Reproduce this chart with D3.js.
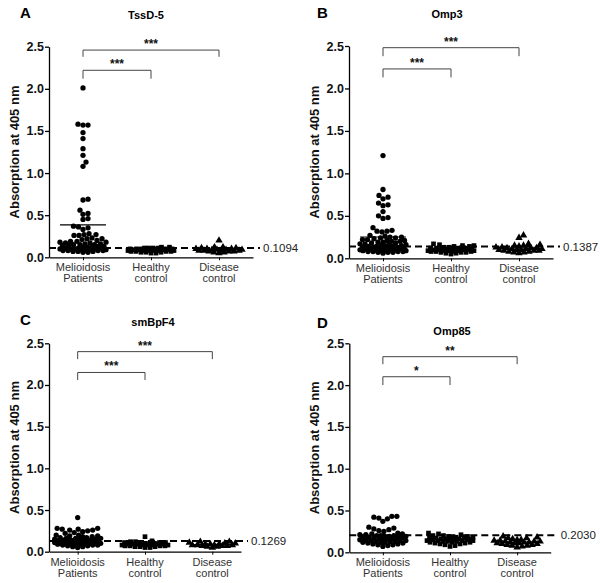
<!DOCTYPE html>
<html><head><meta charset="utf-8">
<script src="https://cdn.jsdelivr.net/npm/d3@7"></script>
<style>body{margin:0;background:#fff}svg{display:block}text{font-family:"Liberation Sans",Arial,sans-serif}</style>
</head><body><svg id="c" width="600" height="583"></svg>
<script>
const categories = ["Melioidosis|Patients", "Healthy|control", "Disease|control"];
const yTicks = [0, 0.5, 1.0, 1.5, 2.0, 2.5];
const panelLetters = ["A", "B", "C", "D"];
const panelTitles = ["TssD-5", "Omp3", "smBpF4", "Omp85"];
const cutoffs = [0.1094, 0.1387, 0.1269, 0.2030];
const cutoffLabels = ["0.1094", "0.1387", "0.1269", "0.2030"];
const sigLabels = [["***", "***"], ["***", "***"], ["***", "***"], ["**", "*"]];
// bracket levels [outer top, outer drop, inner top, inner drop] in data units
const bracketLevels = [[2.46, 2.38, 2.22, 2.12], [2.48, 2.38, 2.23, 2.13], [2.40, 2.31, 2.15, 2.06], [2.34, 2.25, 2.10, 2.00]];

const meliA = [2.01,1.58,1.57,1.57,1.48,1.41,1.29,1.21,1.13,1.08,0.69,0.68,0.56,0.52,0.51,0.46,0.45,0.37,0.36,0.35,0.33,0.28,0.27,0.27,0.26,0.26,0.23,0.22,0.22,0.21,0.20,0.19,0.19,0.18,0.18,0.17,0.17,0.16,0.16,0.15,0.15,0.15,0.14,0.14,0.13,0.13,0.12,0.12,0.12,0.11,0.11,0.11,0.10,0.10,0.10,0.10,0.09,0.09,0.09,0.09,0.08,0.08,0.08,0.08,0.07,0.07,0.07,0.06,0.06];
const healthyA = [0.12,0.12,0.11,0.11,0.11,0.11,0.10,0.10,0.10,0.10,0.10,0.10,0.09,0.09,0.09,0.09,0.09,0.09,0.09,0.08,0.08,0.08,0.08,0.08,0.08,0.07,0.07,0.07,0.07,0.06,0.06,0.06,0.05,0.05];
const diseaseA = [0.20,0.12,0.12,0.11,0.11,0.10,0.10,0.10,0.09,0.09,0.09,0.09,0.08,0.08,0.08,0.08,0.07,0.07,0.07,0.06,0.06,0.05];

const meliB = [1.21,0.81,0.74,0.72,0.70,0.65,0.63,0.62,0.55,0.50,0.48,0.47,0.36,0.33,0.32,0.32,0.31,0.27,0.26,0.25,0.25,0.24,0.24,0.23,0.22,0.22,0.21,0.21,0.20,0.20,0.19,0.19,0.18,0.18,0.17,0.17,0.16,0.16,0.15,0.15,0.15,0.14,0.14,0.14,0.13,0.13,0.13,0.12,0.12,0.12,0.12,0.11,0.11,0.11,0.10,0.10,0.10,0.10,0.09,0.09,0.09,0.09,0.08,0.08,0.08,0.08,0.07,0.07,0.07,0.06];
const healthyB = [0.17,0.16,0.15,0.15,0.14,0.14,0.13,0.13,0.12,0.12,0.12,0.12,0.11,0.11,0.11,0.11,0.11,0.10,0.10,0.10,0.10,0.10,0.09,0.09,0.09,0.09,0.09,0.08,0.08,0.08,0.08,0.07,0.07,0.07,0.06,0.06,0.05];
const diseaseB = [0.27,0.24,0.17,0.16,0.15,0.15,0.14,0.13,0.13,0.12,0.12,0.12,0.11,0.11,0.11,0.10,0.10,0.10,0.09,0.09,0.09,0.08,0.08,0.07,0.07,0.06];

const meliC = [0.41,0.28,0.28,0.27,0.27,0.26,0.26,0.25,0.24,0.23,0.22,0.20,0.20,0.19,0.19,0.18,0.18,0.17,0.17,0.16,0.16,0.16,0.15,0.15,0.15,0.14,0.14,0.14,0.14,0.13,0.13,0.13,0.13,0.12,0.12,0.12,0.12,0.11,0.11,0.11,0.11,0.10,0.10,0.10,0.10,0.09,0.09,0.09,0.08,0.08,0.08,0.07,0.07,0.06,0.06,0.05];
const healthyC = [0.18,0.13,0.12,0.12,0.11,0.11,0.11,0.10,0.10,0.10,0.10,0.09,0.09,0.09,0.09,0.09,0.08,0.08,0.08,0.08,0.08,0.07,0.07,0.07,0.07,0.06,0.06,0.06,0.05,0.05];
const diseaseC = [0.12,0.12,0.11,0.10,0.10,0.09,0.09,0.09,0.08,0.08,0.08,0.08,0.07,0.07,0.07,0.06,0.06,0.05];

const meliD = [0.43,0.43,0.42,0.41,0.40,0.37,0.30,0.29,0.28,0.27,0.26,0.25,0.23,0.22,0.22,0.21,0.21,0.20,0.20,0.20,0.19,0.19,0.19,0.18,0.18,0.18,0.17,0.17,0.17,0.16,0.16,0.16,0.15,0.15,0.15,0.14,0.14,0.14,0.13,0.13,0.13,0.12,0.12,0.12,0.11,0.11,0.10,0.10,0.09,0.09,0.08,0.07];
const healthyD = [0.23,0.22,0.21,0.20,0.20,0.19,0.19,0.18,0.18,0.18,0.17,0.17,0.17,0.16,0.16,0.16,0.16,0.15,0.15,0.15,0.15,0.14,0.14,0.14,0.14,0.13,0.13,0.13,0.12,0.12,0.12,0.11,0.11,0.10,0.10,0.09,0.08,0.07];
const diseaseD = [0.19,0.18,0.17,0.17,0.16,0.15,0.15,0.14,0.14,0.13,0.13,0.13,0.12,0.12,0.12,0.11,0.11,0.11,0.10,0.10,0.09,0.09,0.08,0.08,0.07,0.06];

const panelData = [[meliA, healthyA, diseaseA],[meliB, healthyB, diseaseB],[meliC, healthyC, diseaseC],[meliD, healthyD, diseaseD]];

const layouts = [
  {left:49, right:253, top:46.7, bottom:257.3, pad:0.5, letterX:20, letterY:18, titleX:146, titleY:19, ylabX:15},
  {left:349, right:553, top:46, bottom:258.3, pad:0.5, letterX:317, letterY:18, titleX:447, titleY:18, ylabX:315},
  {left:49, right:241, top:343.3, bottom:551.7, pad:0.426, letterX:20, letterY:325, titleX:153, titleY:326, ylabX:15},
  {left:349.3, right:550.7, top:343.3, bottom:552.3, pad:0.5, letterX:317, letterY:328, titleX:452, titleY:335, ylabX:315}
];
const shapes = [d3.symbolCircle, d3.symbolSquare, d3.symbolTriangle];
const shapeSizes = [22, 22, 24];
const groupHalfWidths = [23, 23, 23];

const svg = d3.select("#c");

// capped beeswarm: horizontal offsets for pixel y positions
function swarm(ys, d, maxHalf) {
  const order = ys.map((y,i)=>({y,i})).sort((a,b)=>b.y-a.y);
  const placed = [];
  const out = new Array(ys.length);
  const cands = [0];
  for (let k = 1; k*0.5 <= maxHalf; k++) { cands.push(k*0.5, -k*0.5); }
  order.forEach(p => {
    let best = null, bestD = -1;
    for (const c of cands) {
      let md = Infinity;
      for (const q of placed) {
        const dx = q.x-c, dy = q.y-p.y;
        const dd = Math.sqrt(dx*dx+dy*dy);
        if (dd < md) md = dd;
      }
      if (md >= d) { best = c; bestD = md; break; }
      if (md > bestD + 1e-6) { bestD = md; best = c; }
    }
    placed.push({x:best, y:p.y});
    out[p.i] = best;
  });
  return out;
}

layouts.forEach((L, pi) => {
  const g = svg.append("g");
  const y = d3.scaleLinear().domain([0, 2.5]).range([L.bottom, L.top]);
  const x = d3.scalePoint().domain(categories).range([L.left, L.right]).padding(L.pad);

  const ya = g.append("g").attr("transform", `translate(${L.left},0)`)
    .call(d3.axisLeft(y).tickValues(yTicks).tickFormat(d3.format(".1f")).tickSize(4).tickSizeOuter(0));
  ya.select(".domain").attr("stroke","#000").attr("stroke-width",1.3);
  ya.selectAll(".tick line").attr("stroke","#000").attr("stroke-width",1.3);
  ya.selectAll(".tick text").attr("font-size",12.5).attr("font-weight","bold").attr("fill","#111").attr("x",-5)
    .style("font-family","'Liberation Sans',Arial,sans-serif");

  const xa = g.append("g").attr("transform", `translate(0,${L.bottom})`)
    .call(d3.axisBottom(x).tickSize(3).tickSizeOuter(0).tickFormat(""));
  xa.select(".domain").attr("stroke","#000").attr("stroke-width",1.3);
  xa.selectAll(".tick line").attr("stroke","#000");
  categories.forEach(c => {
    const parts = c.split("|");
    const t = g.append("text").attr("text-anchor","middle").attr("font-size",11).attr("fill","#333");
    t.append("tspan").attr("x", x(c)).attr("y", L.bottom+14).text(parts[0]);
    t.append("tspan").attr("x", x(c)).attr("y", L.bottom+25).text(parts[1]);
  });

  g.append("text").attr("transform", `translate(${L.ylabX+4},${(L.top+L.bottom)/2}) rotate(-90)`)
    .attr("text-anchor","middle").attr("font-size",13).attr("font-weight","bold").attr("fill","#111")
    .text("Absorption at 405 nm");

  g.append("text").attr("x", L.letterX).attr("y", L.letterY).attr("font-size",15).attr("font-weight","bold").text(panelLetters[pi]);
  g.append("text").attr("x", L.titleX).attr("y", L.titleY).attr("text-anchor","middle").attr("font-size",11).attr("font-weight","bold").text(panelTitles[pi]);

  panelData[pi].forEach((vals, ci) => {
    const cx = x(categories[ci]);
    const ys = vals.map(v => y(v));
    const offs = swarm(ys, 5, groupHalfWidths[ci]);
    g.append("g").selectAll("path").data(vals).join("path")
      .attr("d", d3.symbol().type(shapes[ci]).size(shapeSizes[ci]))
      .attr("transform", (v,i) => `translate(${cx + offs[i]},${y(v)})`)
      .attr("fill","#000");
    const m = d3.mean(vals);
    const halfW = ci===0 ? 23 : 20;
    g.append("line").attr("x1", cx-halfW).attr("x2", cx+halfW).attr("y1", y(m)).attr("y2", y(m))
      .attr("stroke", "#000").attr("stroke-width",1.2);
  });

  g.append("line").attr("x1", L.left).attr("x2", L.right+7).attr("y1", y(cutoffs[pi])).attr("y2", y(cutoffs[pi]))
    .attr("stroke","#000").attr("stroke-width",2).attr("stroke-dasharray","7,4");
  g.append("text").attr("x", L.right+10).attr("y", y(cutoffs[pi])+4).attr("font-size",11.5).attr("fill","#222").text(cutoffLabels[pi]);

  const bl = bracketLevels[pi];
  const xs = categories.map(c => x(c));
  const br = [[xs[0], xs[2], bl[0], bl[1], sigLabels[pi][0]], [xs[0], xs[1], bl[2], bl[3], sigLabels[pi][1]]];
  br.forEach(b => {
    g.append("path").attr("d", `M${b[0]},${y(b[3])}V${y(b[2])}H${b[1]}V${y(b[3])}`)
      .attr("fill","none").attr("stroke","#444").attr("stroke-width",1);
    g.append("text").attr("x", (b[0]+b[1])/2).attr("y", y(b[2])-2).attr("text-anchor","middle")
      .attr("font-size",12).attr("font-weight","bold").attr("fill","#111").text(b[4]);
  });
});
</script></body></html>
